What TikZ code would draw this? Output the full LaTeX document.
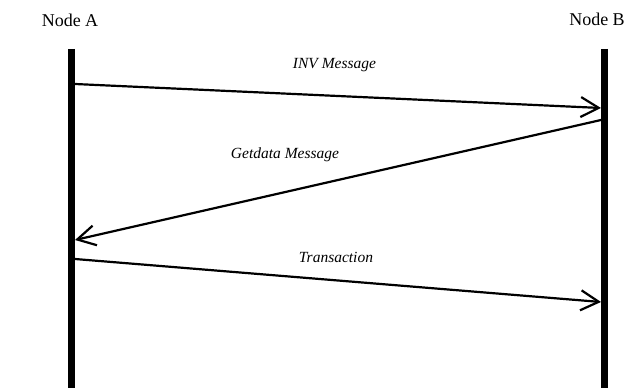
\documentclass[tikz,border=0pt]{standalone}
\usepackage{fontspec}
\setmainfont{Liberation Serif}
\usepackage{tikz}
\usetikzlibrary{arrows.meta}

\begin{document}
\begin{tikzpicture}[x=1pt, y=-1pt,
	lifeline/.style={line width=7pt, black},
	msg/.style={line width=2.2pt, -{Straight Barb[length=18pt, width=20pt]}},
	msglabel/.style={anchor=base, inner sep=0pt, font=\fontsize{15.5}{18}\selectfont\itshape},
	peer/.style={anchor=base, inner sep=0pt, font=\fontsize{18}{21}\selectfont}]
	\useasboundingbox (0, 0) rectangle (627, 390);

	\node [peer] (nodeA) at (70, 27) {Node A};
	\node [peer] (nodeB) at (597, 26) {Node B};

	% lifelines
	\draw [lifeline] (71.5, 49) coordinate (aTop) -- (71.5, 388) coordinate (aBot);
	\draw [lifeline] (604.5, 49) coordinate (bTop) -- (604.5, 388) coordinate (bBot);

	\coordinate (a1) at (75, 84);
	\coordinate (b1) at (601, 108);
	\coordinate (b2) at (601, 120);
	\coordinate (a2) at (75, 240);
	\coordinate (a3) at (75, 259);
	\coordinate (b3) at (601, 302);

	\draw [msg] (a1) -- (b1);
	\draw [msg] (b2) -- (a2);
	\draw [msg] (a3) -- (b3);

	\node [msglabel] (inv) at (334.5, 69) {INV Message};
	\node [msglabel] (getdata) at (285, 159) {Getdata Message};
	\node [msglabel] (tx) at (336, 263) {Transaction};
\end{tikzpicture}
\end{document}
